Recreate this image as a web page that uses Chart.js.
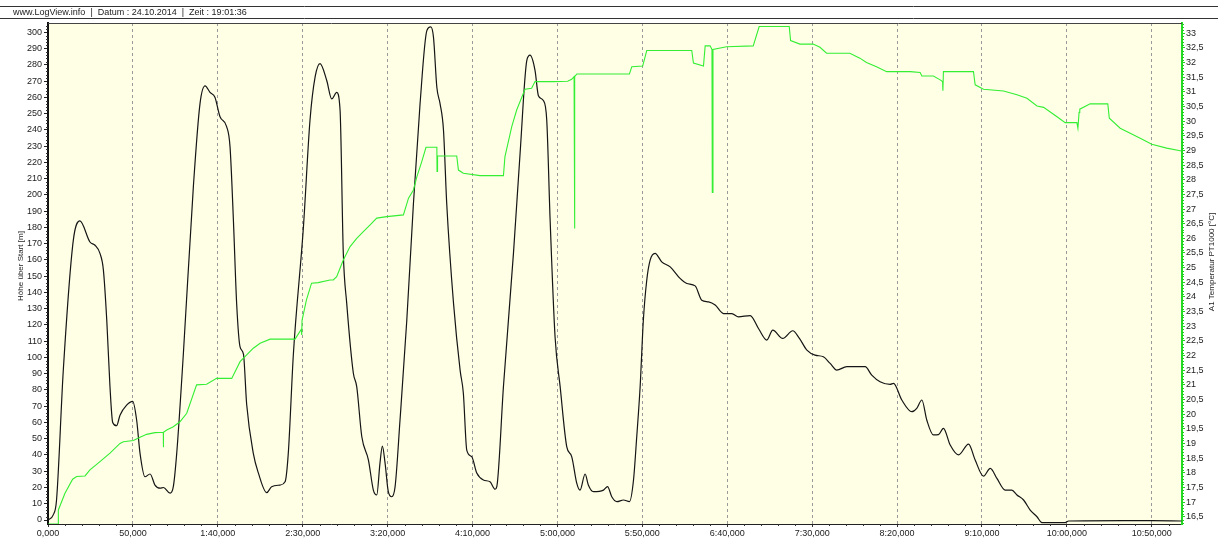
<!DOCTYPE html>
<html>
<head>
<meta charset="utf-8">
<script src="https://cdn.jsdelivr.net/npm/chart.js@4"></script>
<style>
  html, body { margin: 0; padding: 0; background: #fff; }
  #wrap { width: 1218px; height: 538px; }
</style>
</head>
<body>
<div id="wrap"><canvas id="logChart" width="1218" height="538"></canvas></div>
<script>
// Höhe über Start [m] (Zeit in s)
const altTime = [0, 3, 5, 9, 14.9, 18.8, 24.7, 27.7, 30.6, 32.6, 34.6, 36.5, 38.1, 40.4, 42.4, 46.3, 49.9, 52.2, 54.2, 57.1,
  60.1, 63, 66, 68, 71.9, 73.8, 75.8, 79.7, 85.6, 89.5, 92.5, 95.4, 98.3, 101.3, 105.2, 107.2, 109.2, 111.1, 113.1, 115.1,
  117, 120.9, 123.9, 128.8, 131.7, 136.6, 139.6, 141.5, 144.5, 150.4, 154.3, 157.3, 160.2, 164.1, 167.1, 170, 172, 173.9,
  175.9, 179.8, 181.8, 184.8, 188.7, 191.6, 193.6, 195.5, 196.9, 198.5, 200.4, 202.4, 204.4, 207.3, 211.3, 215.2, 219.1,
  223.1, 225.4, 227, 229, 230.9, 232.9, 234.8, 238.8, 242.7, 244.6, 246.6, 249.5, 252.5, 256.4, 260.3, 263.3, 264.3, 268.2,
  274.1, 278, 282, 283.9, 286.8, 288.8, 291.7, 293.7, 295.7, 298.6, 301.6, 305.5, 308.4, 311.4, 313.3, 316.3, 318.2, 321.2,
  327.1, 329.5, 332, 335, 338.9, 342.4, 344.8, 346.7, 348.7, 350.6, 352.6, 354.6, 357.5, 361.4, 366.4, 372.2, 376.2, 381.1,
  385, 389, 392.9, 397.8, 402.7, 406.6, 413.5, 418.4, 423.3, 426.8, 432.7, 438.6, 442.5, 446.9, 451.7, 456.6, 460.6, 464.5,
  470.4, 481.2, 485.1, 490, 495.9, 497.9, 502.8, 508.7, 511.6, 514.6, 517.5, 521.4, 524.4, 527.3, 531.3, 536.2, 542.1, 546,
  550.9, 554.9, 558.8, 563.7, 567.6, 570.6, 574.5, 578.4, 582.4, 585.3, 599, 601, 633.3, 650, 667.5];
const altValue = [0, 3, 12, 92, 172, 184, 171, 169, 164, 154, 123, 82, 60, 58, 64.5, 70.7, 73, 61.5, 41, 26.6,
  28.3, 21.5, 19.6, 20, 16.5, 20.5, 41, 102, 205, 256, 267, 263, 260, 248, 242, 229.5, 184, 133, 106.5, 102,
  71, 41, 28.8, 16.8, 20.5, 21.5, 23.5, 41, 102, 180, 246, 272.5, 280.7, 270.5, 259, 263, 252, 164,
  133.4, 90.4, 82, 51.2, 36.9, 18.4, 15.4, 35, 45.5, 35, 17.4, 14.3, 20.5, 61.5, 123, 194.7, 256,
  301, 303.3, 297, 266, 256, 239.7, 194.7, 133.4, 92, 78, 43, 39, 28.9, 24.6, 23.5, 18.9, 20.5, 82,
  164, 225.4, 282.8, 285.9, 276.6, 261, 258, 246, 184.4, 112.7, 82, 45, 39, 22.5, 18.4, 28.3, 21.5, 17.4,
  18.4, 20.5, 14.3, 11.3, 12.3, 11.3, 24.6, 51.2, 82, 123, 147.5, 159.8, 164, 158.8, 155.7, 148.6, 145.5, 144,
  135.2, 134.2, 132.2, 127, 127, 125, 125.7, 117.8, 110.7, 116.8, 111.7, 116.4, 111.7, 104.5, 101.4, 100.4, 96.3, 92.2,
  94.3, 94.3, 89.1, 85, 83.4, 84, 73.8, 66.6, 68.7, 73.8, 61.5, 52.3, 52.5, 56.4, 46.1, 40, 46.7, 36.9,
  27, 31.8, 25.6, 18.4, 18.4, 15.4, 12.3, 6.1, 2, -1.6, -1.6, -0.6, -0.4, -0.4, -0.6];

// A1 Temperatur PT1000 [°C] (Zeit in s)
const tempTime = [0, 6.1, 6.1, 10, 14.5, 16.9, 21.8, 24.7, 30.6, 36.5, 42.4, 44.4, 50.3, 54.2, 58.1, 63, 67.9, 67.9, 68.1,
  69.9, 73.8, 77.7, 81.7, 87.5, 93.4, 99.3, 108.2, 113.1, 117, 120.9, 124.9, 130.8, 145.5, 149.2, 149.4, 149.6, 152.2,
  155.2, 159.1, 166.1, 168, 170, 173.9, 177.9, 181.8, 185.7, 189.7, 193.6, 199.5, 209.3, 212.3, 215.2, 217.2, 220.1, 222.6,
  229, 229.1, 229.4, 240.7, 241.7, 244.6, 254.4, 268.2, 269.1, 273.1, 276, 280.9, 284.8, 286.8, 297.6, 306, 308.4, 309.8,
  310, 310.3, 311.4, 342.4, 343.8, 350.2, 352.6, 379.1, 380.1, 386, 387, 389.9, 391, 391.2, 391.6, 399.6, 415.3, 418.8,
  436.5, 437.3, 442.8, 450.6, 454.6, 458.5, 472.2, 478.1, 482, 487.9, 493.9, 507.7, 513.6, 514.6, 521.4, 525.4, 526.8, 527,
  527.3, 545, 546, 550.9, 562.7, 570.6, 576.5, 582.4, 586.3, 594.2, 599, 605.9, 606.5, 607.2, 607.6, 613.7, 624.1, 625,
  631.4, 643.2, 650, 658.8, 667.5];
const tempValue = [16.25, 16.25, 16.73, 17.3, 17.78, 17.87, 17.89, 18.1, 18.38, 18.67, 19.0, 19.06, 19.1, 19.21, 19.31, 19.37, 19.38, 18.87, 19.38,
  19.46, 19.57, 19.74, 20.03, 21.0, 21.02, 21.22, 21.22, 21.79, 22.02, 22.25, 22.42, 22.56, 22.56, 22.9, 22.7, 23.2, 23.9,
  24.47, 24.49, 24.58, 24.58, 24.69, 25.26, 25.72, 26.0, 26.23, 26.46, 26.69, 26.74, 26.8, 27.37, 27.65, 28.1, 28.62, 29.11,
  29.11, 28.28, 28.81, 28.81, 28.33, 28.22, 28.14, 28.14, 28.79, 29.81, 30.38, 31.09, 31.12, 31.35, 31.35, 31.36, 31.43, 31.52,
  26.34, 31.52, 31.61, 31.61, 31.86, 31.88, 32.41, 32.41, 31.98, 31.88, 32.57, 32.57, 32.45, 27.57, 32.45, 32.54, 32.57, 33.23,
  33.23, 32.75, 32.63, 32.63, 32.52, 32.32, 32.32, 32.15, 32.0, 31.86, 31.69, 31.69, 31.66, 31.54, 31.54, 31.41, 31.35, 31.04,
  31.69, 31.69, 31.24, 31.09, 31.03, 30.9, 30.78, 30.52, 30.47, 30.15, 29.95, 29.95, 29.76, 30.3, 30.41, 30.59, 30.59, 30.1,
  29.76, 29.42, 29.21, 29.08, 28.98];

const timeTicks = [0, 50, 100, 150, 200, 250, 300, 350, 400, 450, 500, 550, 600, 650];
const altTicks = [0, 10, 20, 30, 40, 50, 60, 70, 80, 90, 100, 110, 120, 130, 140, 150, 160, 170, 180, 190, 200,
  210, 220, 230, 240, 250, 260, 270, 280, 290, 300];
const tempTicks = [16.5, 17, 17.5, 18, 18.5, 19, 19.5, 20, 20.5, 21, 21.5, 22, 22.5, 23, 23.5, 24, 24.5, 25, 25.5,
  26, 26.5, 27, 27.5, 28, 28.5, 29, 29.5, 30, 30.5, 31, 31.5, 32, 32.5, 33];

const headerText = 'www.LogView.info  |  Datum : 24.10.2014  |  Zeit : 19:01:36';
const leftTitle = 'Höhe über Start [m]';
const rightTitle = 'A1 Temperatur PT1000 [°C]';

const font = 'Liberation Sans, Arial, sans-serif';

function fmtTime(v) {
  if (v < 60) return v + ',000';
  const m = Math.floor(v / 60);
  const s = v % 60;
  return m + ':' + (s < 10 ? '0' : '') + s + ',000';
}

function fmtDec(v) {
  return String(v).replace('.', ',');
}

const decor = {
  id: 'decor',
  beforeDraw(chart) {
    const {ctx, chartArea: a} = chart;
    ctx.save();
    ctx.fillStyle = '#ffffff';
    ctx.fillRect(0, 0, chart.width, chart.height);
    ctx.fillStyle = '#ffffe6';
    ctx.fillRect(a.left, a.top, a.right - a.left, a.bottom - a.top);

    // header lines and text
    ctx.strokeStyle = '#333';
    ctx.lineWidth = 1;
    ctx.beginPath();
    ctx.moveTo(0, 6.5); ctx.lineTo(chart.width, 6.5);
    ctx.moveTo(0, 18.5); ctx.lineTo(chart.width, 18.5);
    ctx.stroke();
    ctx.fillStyle = '#222';
    ctx.font = '9px ' + font;
    ctx.textBaseline = 'middle';
    ctx.textAlign = 'left';
    ctx.fillText(headerText, 13, 12.5);
    ctx.restore();
  },
  afterDraw(chart) {
    const {ctx, chartArea: a, scales} = chart;
    ctx.save();
    // top border
    ctx.strokeStyle = '#444';
    ctx.lineWidth = 1;
    ctx.beginPath();
    ctx.moveTo(a.left, a.top + 0.5); ctx.lineTo(a.right, a.top + 0.5);
    ctx.stroke();

    // minor ticks
    ctx.beginPath();
    ctx.strokeStyle = '#333';
    for (let t = 10; t < scales.x.max; t += 10) {
      if (t % 50 === 0) continue;
      const px = Math.round(scales.x.getPixelForValue(t)) + 0.5;
      ctx.moveTo(px, a.bottom); ctx.lineTo(px, a.bottom + 2);
    }
    for (let h = 2; h < scales.y.max; h += 2) {
      if (h % 10 === 0) continue;
      const py = Math.round(scales.y.getPixelForValue(h)) + 0.5;
      ctx.moveTo(a.left - 2, py); ctx.lineTo(a.left, py);
    }
    ctx.stroke();
    ctx.beginPath();
    ctx.strokeStyle = '#22cc22';
    for (let k = 163; k < 334; k++) {
      if (k % 5 === 0) continue;
      const py = Math.round(scales.y1.getPixelForValue(k / 10)) + 0.5;
      ctx.moveTo(a.right, py); ctx.lineTo(a.right + 2, py);
    }
    ctx.stroke();

    // axis titles
    ctx.fillStyle = '#222';
    ctx.font = '8px ' + font;
    ctx.textAlign = 'center';
    ctx.textBaseline = 'middle';
    ctx.save();
    ctx.translate(21, 266);
    ctx.rotate(-Math.PI / 2);
    ctx.fillText(leftTitle, 0, 0);
    ctx.restore();
    ctx.save();
    ctx.translate(1211.5, 262);
    ctx.rotate(-Math.PI / 2);
    ctx.fillText(rightTitle, 0, 0);
    ctx.restore();
    ctx.restore();
  }
};

const ctx = document.getElementById('logChart').getContext('2d');

const chart = new Chart(ctx, {
  type: 'line',
  data: {
    datasets: [
      {
        label: rightTitle,
        yAxisID: 'y1',
        data: tempTime.map((t, i) => ({x: t, y: tempValue[i]})),
        borderColor: '#33ee33',
        borderWidth: 1.1,
        pointRadius: 0,
        tension: 0
      },
      {
        label: leftTitle,
        yAxisID: 'y',
        data: altTime.map((t, i) => ({x: t, y: altValue[i]})),
        borderColor: '#151515',
        borderWidth: 1.2,
        pointRadius: 0,
        cubicInterpolationMode: 'monotone'
      }
    ]
  },
  options: {
    responsive: false,
    animation: false,
    events: [],
    layout: { padding: { top: 23, left: 0, right: 0, bottom: 0 } },
    plugins: { legend: { display: false }, tooltip: { enabled: false } },
    scales: {
      x: {
        type: 'linear',
        min: 0,
        max: 667.8,
        afterFit: (s) => { s.height = 14; },
        afterBuildTicks: (s) => { s.ticks = timeTicks.map(v => ({value: v})); },
        ticks: {
          font: { family: font, size: 9 },
          color: '#222',
          padding: 1,
          maxRotation: 0,
          autoSkip: false,
          callback: (v) => fmtTime(v)
        },
        grid: {
          color: '#9a9a9a',
          lineWidth: 1,
          drawTicks: true,
          tickLength: 3,
          tickColor: '#333'
        },
        border: { color: '#222', width: 1, dash: [3, 3] }
      },
      y: {
        type: 'linear',
        position: 'left',
        min: -2.46,
        max: 305.7,
        afterFit: (s) => { s.width = 48; },
        afterBuildTicks: (s) => { s.ticks = altTicks.map(v => ({value: v})); },
        ticks: {
          font: { family: font, size: 9 },
          color: '#222',
          padding: 2,
          autoSkip: false
        },
        grid: {
          drawOnChartArea: false,
          drawTicks: true,
          tickLength: 4,
          tickColor: '#222'
        },
        border: { color: '#111', width: 2 }
      },
      y1: {
        type: 'linear',
        position: 'right',
        min: 16.25,
        max: 33.35,
        afterFit: (s) => { s.width = 36; },
        afterBuildTicks: (s) => { s.ticks = tempTicks.map(v => ({value: v})); },
        ticks: {
          font: { family: font, size: 9 },
          color: '#222',
          padding: 1,
          autoSkip: false,
          callback: (v) => fmtDec(v)
        },
        grid: {
          drawOnChartArea: false,
          drawTicks: true,
          tickLength: 3,
          tickColor: '#22cc22'
        },
        border: { color: '#22dd22', width: 2 }
      }
    }
  },
  plugins: [decor]
});
</script>
</body>
</html>
